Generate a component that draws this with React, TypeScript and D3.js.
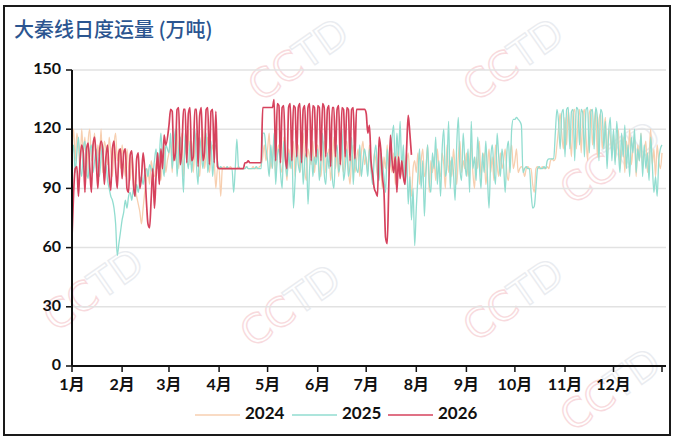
import { useMemo } from "react"
import * as d3 from "d3"

// daily volumes, one inner array per month (万吨)
const Y2024: number[][] = [
  [110, 120, 104, 118, 112, 100, 120, 108, 116, 96, 114, 120, 104, 110, 118, 100, 112, 106, 120, 98, 114, 110, 102, 116, 108, 96, 112, 118, 104, 110, 100],
  [112, 104, 96, 110, 100, 94, 106, 98, 90, 86, 82, 78, 72, 80, 88, 94, 100, 92, 104, 98, 96, 102, 108, 100, 94, 106, 112, 98, 104],
  [108, 114, 98, 116, 104, 120, 100, 110, 118, 96, 112, 106, 120, 102, 114, 98, 110, 118, 104, 96, 112, 120, 100, 108, 116, 98, 106, 112, 104, 90, 100],
  [100, 86, 100, 101, 100, 100, 100, 101, 100, 100, 100, 100, 101, 100, 100, 100, 100, 101, 100, 100, 100, 101, 100, 100, 100, 101, 102, 106, 112, 104],
  [110, 118, 100, 106, 114, 96, 108, 112, 102, 98, 116, 104, 94, 110, 106, 100, 114, 96, 108, 112, 98, 104, 118, 100, 94, 110, 106, 102, 114, 98, 108],
  [112, 100, 96, 108, 114, 98, 106, 110, 94, 104, 116, 100, 108, 96, 112, 104, 98, 110, 114, 100, 92, 106, 112, 98, 104, 110, 96, 108, 114, 102],
  [106, 98, 112, 100, 94, 108, 104, 96, 110, 102, 90, 106, 100, 112, 96, 104, 98, 108, 92, 104, 110, 96, 100, 106, 94, 102, 108, 96, 86, 100, 104],
  [98, 108, 92, 104, 110, 96, 100, 112, 88, 104, 98, 106, 94, 110, 100, 96, 108, 102, 90, 112, 98, 104, 96, 110, 100, 92, 106, 114, 98, 104, 100],
  [108, 96, 104, 112, 98, 90, 106, 100, 114, 96, 104, 108, 92, 100, 110, 98, 106, 94, 112, 102, 96, 108, 100, 104, 110, 98, 94, 106, 112, 100],
  [104, 110, 98, 100, 101, 100, 96, 100, 101, 100, 100, 92, 88, 100, 101, 100, 100, 101, 100, 100, 101, 100, 104, 105, 104, 105, 112, 120, 128, 118, 110],
  [126, 112, 130, 118, 106, 128, 130, 110, 124, 130, 108, 126, 130, 116, 104, 128, 130, 112, 122, 130, 106, 124, 128, 110, 118, 126, 104, 120, 116, 108],
  [118, 104, 112, 120, 100, 108, 116, 98, 114, 106, 120, 102, 110, 116, 96, 112, 104, 118, 100, 108, 114, 98, 106, 120, 102, 110, 96, 112, 104, 100, 108],
]

const Y2025: number[][] = [
  [105, 112, 98, 108, 116, 102, 96, 110, 114, 100, 95, 108, 112, 98, 104, 110, 100, 96, 106, 112, 98, 102, 94, 90, 86, 84, 80, 72, 56, 62, 68],
  [74, 78, 84, 80, 86, 88, 84, 90, 86, 92, 88, 94, 96, 92, 98, 100, 96, 102, 100, 98, 104, 110, 100, 106, 118, 104, 96, 112],
  [108, 118, 100, 112, 120, 96, 110, 116, 104, 88, 118, 106, 100, 114, 98, 110, 120, 102, 92, 116, 108, 100, 112, 118, 98, 106, 114, 96, 108, 112, 104],
  [100, 101, 100, 100, 100, 101, 100, 100, 100, 88, 100, 115, 101, 100, 100, 100, 100, 101, 100, 100, 100, 100, 100, 101, 100, 100, 100, 118, 118, 110],
  [104, 96, 112, 100, 118, 92, 106, 110, 98, 90, 114, 104, 96, 108, 100, 112, 80, 94, 110, 102, 98, 116, 92, 104, 108, 82, 100, 112, 96, 106, 102],
  [110, 94, 104, 118, 98, 92, 108, 100, 114, 96, 90, 106, 112, 98, 104, 120, 94, 100, 110, 96, 102, 116, 92, 108, 100, 98, 112, 96, 104, 110],
  [104, 96, 110, 100, 92, 106, 112, 98, 94, 108, 102, 96, 88, 110, 100, 104, 116, 122, 98, 118, 106, 124, 100, 112, 92, 108, 82, 96, 74, 90, 61],
  [80, 96, 110, 90, 104, 76, 98, 112, 94, 88, 108, 100, 116, 92, 104, 86, 110, 120, 96, 102, 124, 90, 106, 98, 84, 112, 126, 100, 94, 118, 104],
  [96, 110, 88, 124, 100, 106, 94, 116, 102, 90, 108, 98, 114, 96, 80, 104, 112, 100, 92, 118, 106, 96, 110, 102, 88, 108, 114, 98, 120, 125],
  [125, 126, 125, 124, 122, 98, 100, 101, 100, 100, 88, 80, 81, 90, 100, 101, 100, 100, 101, 100, 104, 105, 105, 105, 105, 118, 130, 124, 110, 128, 130],
  [106, 130, 131, 110, 129, 130, 104, 131, 130, 112, 130, 128, 106, 130, 131, 108, 129, 130, 110, 131, 126, 104, 130, 128, 110, 124, 100, 118, 126, 104],
  [120, 102, 124, 110, 98, 118, 106, 122, 100, 112, 96, 116, 108, 120, 98, 110, 104, 118, 96, 112, 100, 108, 94, 116, 102, 88, 96, 86, 104, 110, 112],
]

const Y2026: number[][] = [
  [65, 88, 100, 101, 86, 104, 112, 108, 88, 110, 113, 100, 88, 112, 116, 104, 90, 108, 114, 110, 92, 106, 112, 96, 89, 110, 114, 100, 90, 108, 110],
  [95, 108, 110, 90, 88, 107, 109, 92, 86, 105, 108, 90, 96, 108, 100, 84, 72, 70, 85, 100, 80, 96, 108, 92, 110, 100, 117, 112],
  [122, 130, 129, 104, 108, 130, 131, 102, 110, 130, 130, 103, 128, 131, 104, 106, 130, 130, 101, 127, 131, 104, 108, 130, 131, 102, 129, 130, 103, 129, 101],
  [100, 100, 100, 100, 100, 100, 100, 100, 100, 100, 100, 100, 100, 100, 100, 100, 103, 103, 104, 103, 103, 103, 103, 103, 103, 103, 103, 131, 131, 131],
  [131, 131, 131, 131, 135, 104, 133, 132, 103, 131, 132, 106, 100, 131, 133, 104, 132, 131, 106, 131, 133, 103, 130, 132, 106, 131, 133, 104, 132, 131, 106],
  [132, 131, 104, 133, 131, 106, 130, 132, 101, 131, 131, 106, 130, 132, 102, 131, 130, 106, 131, 130, 104, 130, 131, 105, 130, 130, 130, 130, 130, 130],
  [128, 118, 122, 104, 97, 90, 88, 86, 116, 110, 96, 88, 65, 62, 92, 117, 104, 98, 106, 88, 106, 95, 104, 96, 92, 110, 127, 118, 107],
]

const YEARS = ["2024", "2025", "2026"]
const SERIES = [Y2024, Y2025, Y2026]
const COLORS = ["#f7cfb0", "#92ddd0", "#d6425d"]
const WIDTHS = [1.3, 1.3, 1.7]
const MONTHS = ["1月", "2月", "3月", "4月", "5月", "6月", "7月", "8月", "9月", "10月", "11月", "12月"]
const Y_TICKS = [0, 30, 60, 90, 120, 150]

const W = 676
const H = 443
const PL = 72
const PR = 666
const PT = 70
const PB = 366

const FONT = "Lato, 'Noto Sans CJK SC', sans-serif"

// faint CCTD watermark spots
const MARKS: [number, number][] = [
  [300, 62], [515, 62], [612, 165], [95, 292], [292, 308], [515, 302], [612, 392],
]

export default function App() {
  const x = useMemo(
    () => d3.scaleTime().domain([new Date(2024, 0, 1), new Date(2024, 11, 31)]).range([PL, 662]),
    []
  )
  const y = useMemo(() => d3.scaleLinear().domain([0, 150]).range([PB, PT]), [])

  const line = d3
    .line<[Date, number]>()
    .x((d) => x(d[0]))
    .y((d) => y(d[1]))
    .curve(d3.curveMonotoneX)

  const paths = SERIES.map((months) => {
    const pts: [Date, number][] = []
    months.forEach((days, m) => days.forEach((v, i) => pts.push([new Date(2024, m, i + 1), v])))
    return line(pts) ?? ""
  })

  const monthTicks = d3.range(12).map((m) => new Date(2024, m, 1))
  const allTicks = [...monthTicks, new Date(2024, 11, 31)]

  return (
    <svg
      width={W}
      height={H}
      style={{ position: "absolute", left: 0, top: 0, display: "block", background: "#fff" }}
    >
      <rect x={0} y={0} width={W} height={H} fill="#fff" />

      {/* watermark */}
      {MARKS.map(([mx, my], i) => (
        <text
          key={i}
          transform={`translate(${mx},${my}) rotate(-35)`}
          textAnchor="middle"
          dominantBaseline="middle"
          fontFamily="'DejaVu Sans', sans-serif"
          fontSize={40}
          fill="none"
          strokeWidth={1.4}
        >
          <tspan stroke="#f8dadd">CC</tspan>
          <tspan stroke="#eaecf0">TD</tspan>
        </text>
      ))}

      <rect x={4} y={6} width={666} height={429} fill="none" stroke="#1a1a1a" strokeWidth={2} />

      <text
        x={14}
        y={37}
        fontFamily="'Noto Sans CJK SC', sans-serif"
        fontWeight={500}
        fontSize={20}
        fill="#2b5590"
      >
        大秦线日度运量 (万吨)
      </text>

      {/* grid */}
      {Y_TICKS.filter((t) => t > 0).map((t) => (
        <line key={t} x1={PL} x2={PR} y1={y(t)} y2={y(t)} stroke="#e2e2e2" strokeWidth={1.5} />
      ))}

      {/* series */}
      {paths.map((d, i) => (
        <path key={YEARS[i]} d={d} fill="none" stroke={COLORS[i]} strokeWidth={WIDTHS[i]} strokeLinejoin="round" />
      ))}

      {/* y axis */}
      <line x1={PL} x2={PL} y1={PT} y2={PB} stroke="#111" strokeWidth={2} />
      {Y_TICKS.map((t) => (
        <g key={t}>
          <line x1={PL - 6} x2={PL} y1={y(t)} y2={y(t)} stroke="#111" strokeWidth={1.5} />
          <text
            x={PL - 11}
            y={y(t)}
            textAnchor="end"
            dominantBaseline="middle"
            fontFamily={FONT}
            fontWeight={700}
            fontSize={16}
            fill="#111"
          >
            {t}
          </text>
        </g>
      ))}

      {/* x axis */}
      <line x1={PL} x2={PR} y1={PB} y2={PB} stroke="#111" strokeWidth={2} />
      {allTicks.map((t, i) => (
        <line key={i} x1={x(t)} x2={x(t)} y1={PB} y2={PB + 6} stroke="#111" strokeWidth={1.5} />
      ))}
      {monthTicks.map((t, i) => (
        <text
          key={i}
          x={x(t)}
          y={386}
          textAnchor="middle"
          dominantBaseline="middle"
          fontFamily={FONT}
          fontWeight={700}
          fontSize={16}
          fill="#111"
        >
          {MONTHS[i]}
        </text>
      ))}

      {/* legend */}
      {YEARS.map((yr, i) => {
        const lx = [195, 292, 388][i]
        return (
          <g key={yr}>
            <line x1={lx} x2={lx + 45} y1={415} y2={415} stroke={COLORS[i]} strokeWidth={1.6} />
            <text
              x={lx + 50}
              y={415}
              dominantBaseline="middle"
              fontFamily={FONT}
              fontWeight={700}
              fontSize={17}
              fill="#111"
            >
              {yr}
            </text>
          </g>
        )
      })}
    </svg>
  )
}
